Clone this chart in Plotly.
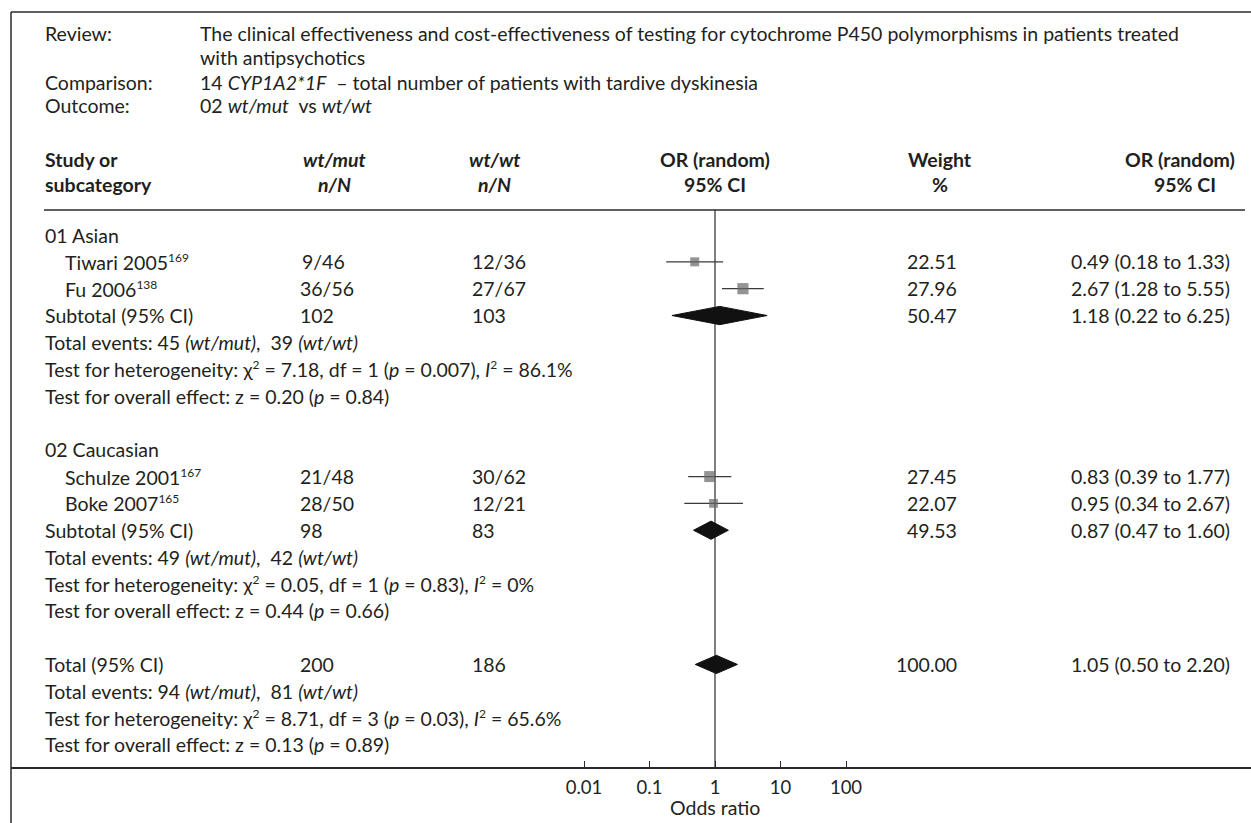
import plotly.graph_objects as go

# ---------------- data ----------------
studies = ["Tiwari 2005", "Fu 2006", "Schulze 2001", "Boke 2007"]
study_refs = ["169", "138", "167", "165"]
study_rows = [1, 2, 9, 10]
mut_events = [9, 36, 21, 28]
mut_total = [46, 56, 48, 50]
wt_events = [12, 27, 30, 12]
wt_total = [36, 67, 62, 21]
or_est = [0.49, 2.67, 0.83, 0.95]
ci_low = [0.18, 1.28, 0.39, 0.34]
ci_high = [1.33, 5.55, 1.77, 2.67]
weights = [22.51, 27.96, 27.45, 22.07]

group_names = ["01 Asian", "02 Caucasian"]
group_rows = [0, 8]

pool_labels = ["Subtotal (95% CI)", "Subtotal (95% CI)", "Total (95% CI)"]
pool_rows = [3, 11, 16]
pool_mut_n = [102, 98, 200]
pool_wt_n = [103, 83, 186]
pool_est = [1.18, 0.87, 1.05]
pool_low = [0.22, 0.47, 0.50]
pool_high = [6.25, 1.60, 2.20]
pool_weight = [50.47, 49.53, 100.00]
events_mut = [45, 49, 94]
events_wt = [39, 42, 81]
het_chi2 = ["7.18", "0.05", "8.71"]
het_df = [1, 1, 3]
het_p = ["0.007", "0.83", "0.03"]
het_i2 = ["86.1%", "0%", "65.6%"]
eff_z = ["0.20", "0.44", "0.13"]
eff_p = ["0.84", "0.66", "0.89"]

tick_vals = [0.01, 0.1, 1, 10, 100]
tick_text = ["0.01", "0.1", "1", "10", "100"]

# ---------------- layout geometry ----------------
W, H = 1251, 823
PLOT_TOP, PLOT_BOT = 210, 767
ROW0, PITCH = 235, 26.84
FONT = "Lato"
FS = 19.5
TXT = "#231f20"
LINE = "#2b2b2b"

def px(x):
    return x / W

def py(y):
    return (PLOT_BOT - y) / (PLOT_BOT - PLOT_TOP)

def sup(s):
    return f"<sup><span style='font-size:12px'>{s}</span></sup>"

y_top = (PLOT_TOP - ROW0) / PITCH
y_bot = (PLOT_BOT - ROW0) / PITCH

fig = go.Figure()
ann = []

def add_text(text, x, y, anchor="left", yref="y", bold=False, size=FS):
    if bold:
        text = "<b>" + text + "</b>"
    ann.append(dict(text=text, x=px(x), xref="paper", y=y, yref=yref,
                    xanchor=anchor, yanchor="middle", showarrow=False,
                    font=dict(family=FONT, size=size, color=TXT)))

# header block
hdr_y = [33, 58, 82, 105]
add_text("Review:", 43, py(hdr_y[0]), yref="paper")
add_text("The clinical effectiveness and cost-effectiveness of testing for cytochrome P450 polymorphisms in patients treated",
         198, py(hdr_y[0]), yref="paper")
add_text("with antipsychotics", 198, py(hdr_y[1]), yref="paper")
add_text("Comparison:", 43, py(hdr_y[2]), yref="paper")
add_text("14 <i>CYP1A2*1F</i>  – total number of patients with tardive dyskinesia", 198, py(hdr_y[2]), yref="paper")
add_text("Outcome:", 43, py(hdr_y[3]), yref="paper")
add_text("02 <i>wt/mut</i>  vs <i>wt/wt</i>", 198, py(hdr_y[3]), yref="paper")

# column headers
c1, c2 = 160, 185
add_text("Study or", 43, py(c1), yref="paper", bold=True)
add_text("subcategory", 43, py(c2), yref="paper", bold=True)
add_text("<i>wt/mut</i>", 334, py(c1), anchor="center", yref="paper", bold=True)
add_text("<i>n/N</i>", 334, py(c2), anchor="center", yref="paper", bold=True)
add_text("<i>wt/wt</i>", 494, py(c1), anchor="center", yref="paper", bold=True)
add_text("<i>n/N</i>", 494, py(c2), anchor="center", yref="paper", bold=True)
add_text("OR (random)", 715, py(c1), anchor="center", yref="paper", bold=True)
add_text("95% CI", 715, py(c2), anchor="center", yref="paper", bold=True)
add_text("Weight", 940, py(c1), anchor="center", yref="paper", bold=True)
add_text("%", 940, py(c2), anchor="center", yref="paper", bold=True)
add_text("OR (random)", 1180, py(c1), anchor="center", yref="paper", bold=True)
add_text("95% CI", 1185, py(c2), anchor="center", yref="paper", bold=True)

# group headers
for g, r in zip(group_names, group_rows):
    add_text(g, 43, r)

# studies
for i, r in enumerate(study_rows):
    add_text(f"{studies[i]}{sup(study_refs[i])}", 63, r)
    mut = f"{mut_events[i]}/{mut_total[i]}"
    if mut_events[i] < 10:
        add_text(mut, 347, r, anchor="right")
    else:
        add_text(mut, 298, r)
    add_text(f"{wt_events[i]}/{wt_total[i]}", 470, r)
    add_text(f"{weights[i]:.2f}", 959, r, anchor="right")
    add_text(f"{or_est[i]:.2f} ({ci_low[i]:.2f} to {ci_high[i]:.2f})", 1232, r, anchor="right")

# pooled rows + stats
for k, r in enumerate(pool_rows):
    add_text(pool_labels[k], 43, r)
    add_text(str(pool_mut_n[k]), 298, r)
    add_text(str(pool_wt_n[k]), 470, r)
    add_text(f"{pool_weight[k]:.2f}", 959, r, anchor="right")
    add_text(f"{pool_est[k]:.2f} ({pool_low[k]:.2f} to {pool_high[k]:.2f})", 1232, r, anchor="right")
    add_text(f"Total events: {events_mut[k]} <i>(wt/mut)</i>,  {events_wt[k]} <i>(wt/wt)</i>", 43, r + 1)
    add_text(f"Test for heterogeneity: χ{sup('2')} = {het_chi2[k]}, df = {het_df[k]} (<i>p</i> = {het_p[k]}), "
             f"<i>I</i>{sup('2')} = {het_i2[k]}", 43, r + 2)
    add_text(f"Test for overall effect: z = {eff_z[k]} (<i>p</i> = {eff_p[k]})", 43, r + 3)

# x-axis title centred on the line of no effect
ann.append(dict(text="Odds ratio", x=0, xref="x", y=py(807), yref="paper",
                xanchor="center", yanchor="middle", showarrow=False,
                font=dict(family=FONT, size=FS, color=TXT)))

# CI lines for studies
lx, ly = [], []
for i, r in enumerate(study_rows):
    lx += [ci_low[i], ci_high[i], None]
    ly += [r, r, None]
fig.add_trace(go.Scatter(x=lx, y=ly, mode="lines", line=dict(color="#3a3a3a", width=1.3),
                         hoverinfo="skip", showlegend=False))
# squares
fig.add_trace(go.Scatter(x=or_est, y=study_rows, mode="markers",
                         marker=dict(symbol="square", color="#666666",
                                     size=[w * 0.4 for w in weights], line=dict(width=0)),
                         showlegend=False))
# diamonds
HALF = 0.34
for k, r in enumerate(pool_rows):
    fig.add_trace(go.Scatter(
        x=[pool_low[k], pool_est[k], pool_high[k], pool_est[k], pool_low[k]],
        y=[r, r - HALF, r, r + HALF, r],
        mode="lines", fill="toself", fillcolor="#111111",
        line=dict(color="#111111", width=1), hoverinfo="skip", showlegend=False))

# shapes: frame, header rule, line of no effect
shapes = [
    dict(type="line", xref="paper", yref="paper", x0=px(11), x1=1, y0=py(12), y1=py(12),
         line=dict(color=LINE, width=1.5)),
    dict(type="line", xref="paper", yref="paper", x0=px(11), x1=px(11), y0=py(12), y1=py(823),
         line=dict(color=LINE, width=1.5)),
    dict(type="line", xref="paper", yref="paper", x0=px(44), x1=px(1245), y0=1, y1=1,
         line=dict(color=LINE, width=1.3)),
    dict(type="line", xref="x", yref="paper", x0=1, x1=1, y0=0, y1=1,
         line=dict(color=LINE, width=1.2), layer="below"),
]

DEC = 65.5
r0 = -(715 - 11) / DEC
r1 = r0 + (W - 11) / DEC

fig.update_layout(
    width=W, height=H,
    margin=dict(l=0, r=0, t=PLOT_TOP, b=H - PLOT_BOT, pad=0),
    paper_bgcolor="white", plot_bgcolor="white",
    annotations=ann, shapes=shapes,
    xaxis=dict(type="log", range=[r0, r1], domain=[px(11), 1],
               tickvals=tick_vals, ticktext=tick_text, ticks="inside", ticklen=6,
               tickcolor=LINE, tickwidth=1.2, showline=True, linecolor=LINE, linewidth=1.5,
               showgrid=False, zeroline=False, ticklabelstandoff=3,
               tickfont=dict(family=FONT, size=18.5, color=TXT)),
    yaxis=dict(range=[y_bot, y_top], visible=False, showgrid=False, zeroline=False),
    showlegend=False,
)

fig.write_html("out.html")
